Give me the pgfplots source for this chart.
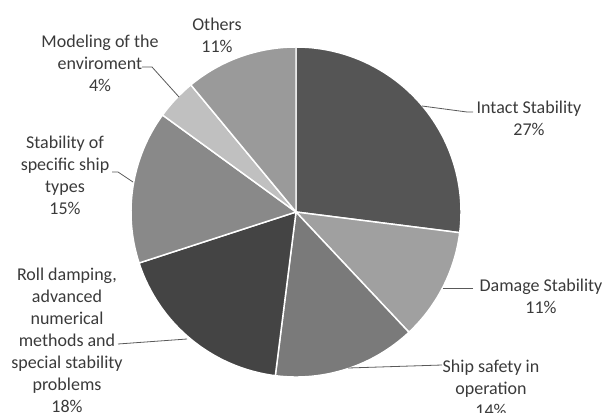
\documentclass[border=0pt]{standalone}
\usepackage{pgfplots}
\pgfplotsset{compat=1.18}
\usepackage{pgfplotstable}
\usepackage{fontspec}
\setmainfont{Carlito}
\definecolor{slice0}{HTML}{555555}
\definecolor{slice1}{HTML}{A0A0A0}
\definecolor{slice2}{HTML}{7A7A7A}
\definecolor{slice3}{HTML}{444444}
\definecolor{slice4}{HTML}{898989}
\definecolor{slice5}{HTML}{C0C0C0}
\definecolor{slice6}{HTML}{9A9A9A}
\definecolor{txt}{HTML}{3A3A3A}
\definecolor{lead}{HTML}{595959}

\pgfplotstableread{
share
27
11
14
18
15
4
11
}\piedata

\begin{document}
\begin{tikzpicture}
\def\R{123.75pt}
\pgfmathsetmacro\acc{90}
\pgfplotsforeachungrouped \i in {0,...,6}{%
  \pgfplotstablegetelem{\i}{share}\of\piedata
  \pgfmathsetmacro\nxt{\acc-3.6*\pgfplotsretval}%
  \expandafter\xdef\csname sa\i\endcsname{\acc}%
  \expandafter\xdef\csname ea\i\endcsname{\nxt}%
  \global\let\acc\nxt
}
\begin{axis}[at={(0,0)},anchor=south west,scale only axis,
  width=452.25pt,height=309pt,xmin=0,xmax=603,ymin=0,ymax=412,
  hide axis,clip=false]
\pgfplotsinvokeforeach{0,...,6}{%
  \fill[fill=slice#1,draw=white,line width=1.1pt,line join=round]
    (axis cs:296,200) -- ([shift={(\csname sa#1\endcsname:\R)}]axis cs:296,200)
    arc[start angle=\csname sa#1\endcsname,end angle=\csname ea#1\endcsname,radius=\R] -- cycle;
}
% leader lines
\draw[lead,line width=0.6pt] (axis cs:142,345) -- (axis cs:152,345) -- (axis cs:179,315);
\draw[lead,line width=0.6pt] (axis cs:112,240) -- (axis cs:118,240) -- (axis cs:133,230);
\draw[lead,line width=0.6pt] (axis cs:118,68) -- (axis cs:187,73);
\draw[lead,line width=0.6pt] (axis cs:473,300) -- (axis cs:467,300) -- (axis cs:422,306);
\draw[lead,line width=0.6pt] (axis cs:473,124) -- (axis cs:443,124);
\draw[lead,line width=0.6pt] (axis cs:442,47) -- (axis cs:348,44);
% labels
\tikzset{lbl/.style={align=center,inner sep=0pt,text=txt,font=\fontsize{13.5}{16.5}\selectfont}}
\node[lbl] at (axis cs:217,376.5) {Others\\11\%};
\node[lbl] at (axis cs:100,349) {Modeling of the\\enviroment\\4\%};
\node[lbl] at (axis cs:65,237) {Stability of\\specific ship\\types\\15\%};
\node[lbl] at (axis cs:67,71.5) {Roll damping,\\advanced\\numerical\\methods and\\special stability\\problems\\18\%};
\node[lbl] at (axis cs:529,294) {Intact Stability\\27\%};
\node[lbl] at (axis cs:541,116) {Damage Stability\\11\%};
\node[lbl] at (axis cs:491,24) {Ship safety in\\operation\\14\%};
\end{axis}
\pgfresetboundingbox
\path[use as bounding box] (0,0) rectangle (452.25pt,309pt);
\end{tikzpicture}
\end{document}
